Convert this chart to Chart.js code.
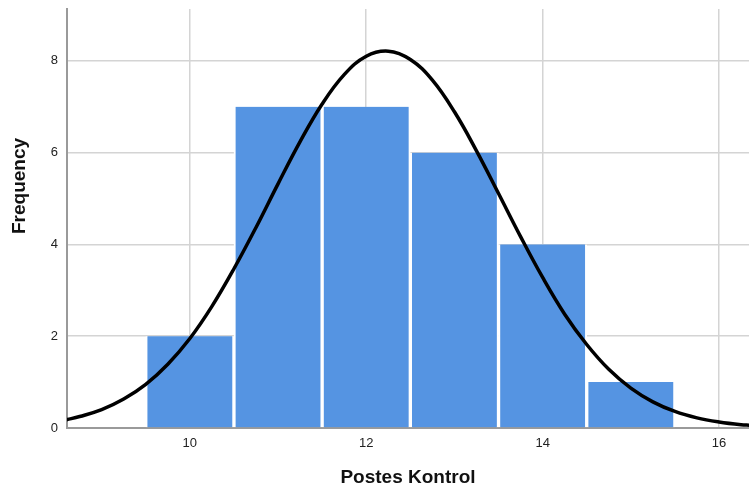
<!DOCTYPE html>
<html>
<head>
<meta charset="utf-8">
<script src="https://cdn.jsdelivr.net/npm/chart.js@4/dist/chart.umd.min.js"></script>
<style>
  html, body { margin: 0; padding: 0; background: #fff; }
  #wrap { width: 749px; height: 489px; }
</style>
</head>
<body>
<div id="wrap"><canvas id="histChart" width="749" height="489"></canvas></div>
<script>
// histogram bins (bin centre) and counts
const binCenters = [10, 11, 12, 13, 14, 15];
const binCounts = [2, 7, 7, 6, 4, 1];

// normal curve
const curveX = [8.6, 8.75, 9, 9.25, 9.5, 9.75, 10, 10.25, 10.5, 10.75, 11, 11.25, 11.5, 11.75,
    12, 12.25, 12.5, 12.75, 13, 13.25, 13.5, 13.75, 14, 14.25, 14.5, 14.75, 15, 15.25,
    15.5, 15.75, 16, 16.25, 16.35];
const curveY = [0.18, 0.25, 0.40, 0.63, 0.95, 1.39, 1.95, 2.65, 3.47, 4.37, 5.32, 6.24, 7.06, 7.70,
    8.10, 8.21, 8.03, 7.58, 6.89, 6.04, 5.11, 4.17, 3.28, 2.48, 1.82, 1.28, 0.87, 0.57,
    0.36, 0.22, 0.13, 0.07, 0.06];

const xTicks = [10, 12, 14, 16];
const yTicks = [0, 2, 4, 6, 8];

const fontFamily = '"Liberation Sans", Arial, sans-serif';

// SPSS puts the y title above the middle of the axis, so draw it by hand
const yTitlePlugin = {
    id: 'yTitle',
    afterDraw(chart) {
        const ctx = chart.ctx;
        ctx.save();
        ctx.translate(20, 186);
        ctx.rotate(-Math.PI / 2);
        ctx.font = 'bold 19px ' + fontFamily;
        ctx.fillStyle = '#111';
        ctx.textAlign = 'center';
        ctx.textBaseline = 'middle';
        ctx.fillText('Frequency', 0, 0);
        ctx.restore();
    }
};

new Chart(document.getElementById('histChart'), {
    type: 'bar',
    data: {
        datasets: [{
            type: 'line',
            data: curveX.map((x, i) => ({ x: x, y: curveY[i] })),
            borderColor: '#000',
            borderWidth: 3.5,
            tension: 0.4,
            pointRadius: 0,
            fill: false,
            order: 0,
        }, {
            type: 'bar',
            data: binCenters.map((x, i) => ({ x: x, y: binCounts[i] })),
            backgroundColor: '#5594e2',
            borderColor: '#ffffff',
            borderWidth: { left: 2, right: 2, top: 0, bottom: 0 },
            borderSkipped: false,
            categoryPercentage: 1,
            barPercentage: 1,
            order: 1,
        }]
    },
    options: {
        responsive: false,
        animation: false,
        layout: { padding: { top: 9, right: 0, left: 0, bottom: 0 } },
        plugins: {
            legend: { display: false },
            tooltip: { enabled: false },
        },
        scales: {
            x: {
                type: 'linear',
                offset: false,
                min: 8.607,
                max: 16.34,
                afterBuildTicks: (scale) => { scale.ticks = xTicks.map(v => ({ value: v })); },
                afterFit: (scale) => { scale.height = 61; scale.paddingLeft = 0; scale.paddingRight = 0; },
                grid: { color: '#d4d4d4', lineWidth: 1.5, drawTicks: false, offset: false },
                border: { display: true, color: '#9a9a9a', width: 2 },
                ticks: {
                    padding: 8,
                    color: '#222',
                    font: { family: fontFamily, size: 13 },
                    maxRotation: 0,
                },
                title: {
                    display: true,
                    text: 'Postes Kontrol',
                    color: '#111',
                    font: { family: fontFamily, size: 19, weight: 'bold' },
                    padding: { top: 0, bottom: 0 },
                },
            },
            y: {
                min: 0,
                max: 9.13,
                afterBuildTicks: (scale) => { scale.ticks = yTicks.map(v => ({ value: v })); },
                afterFit: (scale) => { scale.width = 67; scale.paddingTop = 0; scale.paddingBottom = 0; },
                grid: { color: '#d4d4d4', lineWidth: 1.5, drawTicks: false },
                border: { display: true, color: '#9a9a9a', width: 2 },
                ticks: {
                    padding: 9,
                    color: '#222',
                    font: { family: fontFamily, size: 13 },
                },
            },
        },
    },
    plugins: [yTitlePlugin],
});
</script>
</body>
</html>
